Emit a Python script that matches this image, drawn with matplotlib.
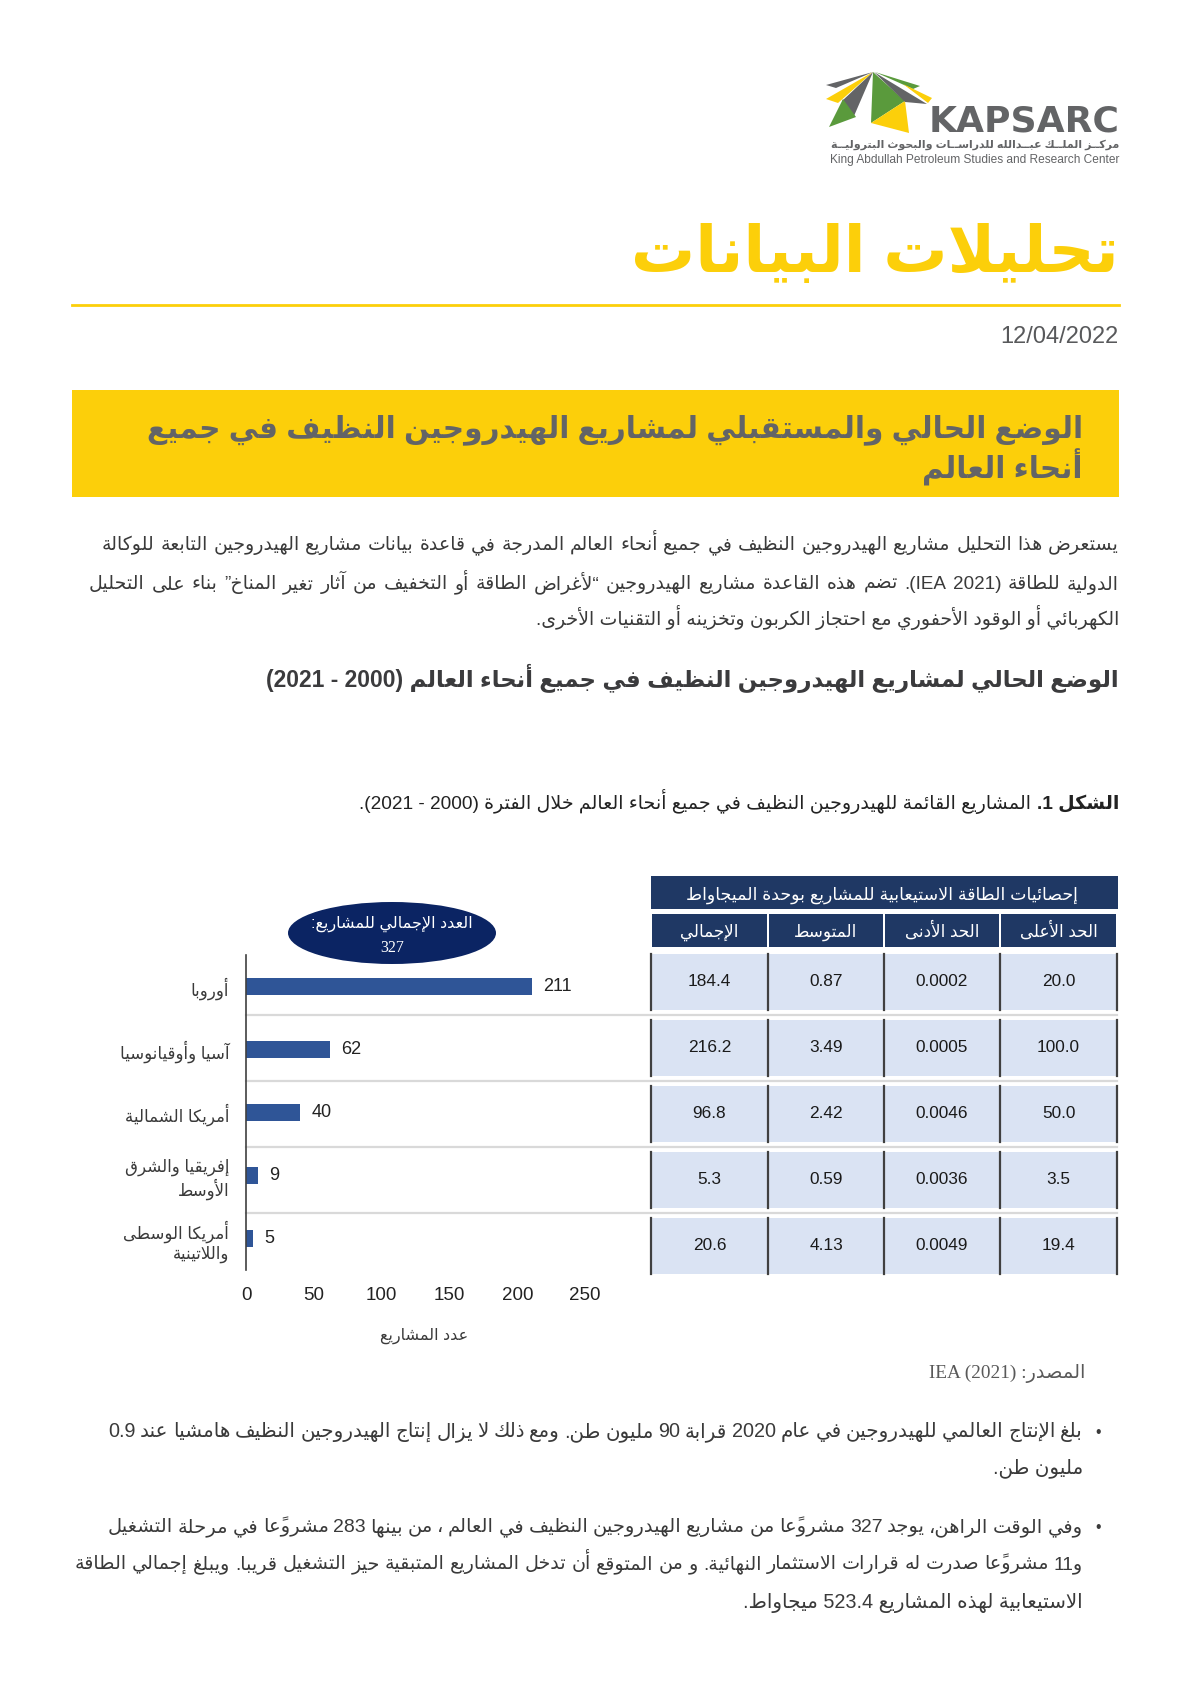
import re
import matplotlib
matplotlib.use("Agg")
import matplotlib.pyplot as plt
from matplotlib.patches import Ellipse, Rectangle, Polygon

plt.rcParams['font.family'] = ['Liberation Sans', 'DejaVu Sans']

# ---------------- data
regions = ["أوروبا", "آسيا وأوقيانوسيا", "أمريكا الشمالية",
           "إفريقيا والشرق\nالأوسط", "أمريكا الوسطى\nواللاتينية"]
projects = [211, 62, 40, 9, 5]
projects_total = 327
x_ticks = [0, 50, 100, 150, 200, 250]

cap_total = [184.4, 216.2, 96.8, 5.3, 20.6]
cap_mean = [0.87, 3.49, 2.42, 0.59, 4.13]
cap_min = [0.0002, 0.0005, 0.0046, 0.0036, 0.0049]
cap_max = [20.0, 100.0, 50.0, 3.5, 19.4]
col_heads = ["الإجمالي", "المتوسط", "الحد الأدنى", "الحد الأعلى"]
col_formats = ["{:.1f}", "{:.2f}", "{:.4f}", "{:.1f}"]

# ---------------- arabic shaping (no raqm in matplotlib)
_letters = "ءآأؤإئابةتثجحخدذرزسشصضطظعغفقكلمنهوىي"
_right = set("آأؤإادذرزوةى")
FORMS = {}
_c = 0xFE80
for ch in _letters:
    n = 1 if ch == "ء" else (2 if ch in _right else 4)
    FORMS[ch] = [chr(_c + k) for k in range(n)]
    _c += n
LAM_ALEF = {"آ": 0xFEF5, "أ": 0xFEF7, "إ": 0xFEF9, "ا": 0xFEFB}
MARKS = set(chr(c) for c in range(0x064B, 0x0660)) | {"\u0670"}
TATWEEL = "\u0640"


def _dual(ch):
    return ch == TATWEEL or len(FORMS.get(ch, "")) == 4


def _joins(ch):
    return ch == TATWEEL or len(FORMS.get(ch, "")) >= 2


def shape(s):
    chars = list(s)
    n = len(chars)
    out = []
    i = 0
    while i < n:
        ch = chars[i]
        if ch not in FORMS:
            out.append(ch)
            i += 1
            continue
        p = i - 1
        while p >= 0 and chars[p] in MARKS:
            p -= 1
        prev = chars[p] if p >= 0 else None
        j = i + 1
        while j < n and chars[j] in MARKS:
            j += 1
        nxt = chars[j] if j < n else None
        cp = prev is not None and _dual(prev) and _joins(ch)
        if ch == "ل" and nxt in LAM_ALEF:
            out.append(chr(LAM_ALEF[nxt] + (1 if cp else 0)))
            out.extend(chars[i + 1:j])
            i = j + 1
            continue
        cn = _dual(ch) and nxt is not None and _joins(nxt)
        f = FORMS[ch]
        if cp and cn:
            out.append(f[3])
        elif cp:
            out.append(f[1])
        elif cn:
            out.append(f[2])
        else:
            out.append(f[0])
        i += 1
    return "".join(out)


LTR = re.compile(r"[A-Za-z](?:[A-Za-z0-9 .,/:\-]|\([A-Za-z0-9 .,/:\-]*\))*|\d+(?:[.,/:]\d+)*")
MIRROR = {"(": ")", ")": "("}


def _rev(seg):
    cl = []
    for ch in seg:
        if ch in MARKS and cl:
            cl[-1] += ch
        else:
            cl.append(MIRROR.get(ch, ch))
    return "".join(reversed(cl))


def ar(s):
    if "\n" in s:
        return "\n".join(ar(x) for x in s.split("\n"))
    s = shape(s)
    parts, pos = [], 0
    for m in LTR.finditer(s):
        txt = m.group().rstrip(" .,/:-")
        parts.append(_rev(s[pos:m.start()]))
        parts.append(txt)
        pos = m.start() + len(txt)
    parts.append(_rev(s[pos:]))
    return "".join(reversed(parts))


# ---------------- colours
YEL = "#FCCF0A"
GRAY = "#636466"
GREEN = "#5A9A3C"
TXT = "#3A3A3A"
NAVY = "#1F3864"
BAR = "#2F5597"
CELL = "#DAE3F3"

fig = plt.figure(figsize=(11.91, 16.84), dpi=100)
pg = fig.add_axes([0, 0, 1, 1])
pg.set_xlim(0, 1191)
pg.set_ylim(1684, 0)
pg.axis("off")
rend = fig.canvas.get_renderer()


def tw(s, size, weight="normal", family=None):
    t = pg.text(0, 0, s, fontsize=size, fontweight=weight)
    if family:
        t.set_family(family)
    w = t.get_window_extent(rend).width
    t.remove()
    return w


def fit(s, target, weight="normal", family=None):
    return 20 * target / tw(ar(s), 20, weight, family)


def line(xr, y, s, size, color=TXT, weight="normal", xl=None, family=None):
    vis = ar(s)
    kw = dict(fontsize=size, color=color, fontweight=weight, va="baseline")
    if family:
        kw["family"] = family
    if xl is None:
        pg.text(xr, y, vis, ha="right", **kw)
        return
    words = [w for w in vis.split(" ") if w]
    while True:
        ws = [tw(w, size, weight) for w in words]
        gap = (xr - xl - sum(ws)) / (len(words) - 1)
        if gap > 0.22 * size * 100 / 72:
            break
        size *= 0.98
        kw["fontsize"] = size
    x = xl
    for w, wd in zip(words, ws):
        pg.text(x, y, w, ha="left", **kw)
        x += wd + gap


# ---------------- logo
logo = [
    ([(873, 72), (826, 85), (836, 88)], GRAY),
    ([(873, 72), (826, 99), (838, 103)], YEL),
    ([(873, 72), (842, 101), (854, 116)], GRAY),
    ([(843, 99), (829, 127), (856, 117)], GREEN),
    ([(873, 72), (871, 123), (905, 101)], GREEN),
    ([(871, 123), (905, 101), (909, 133)], YEL),
    ([(874, 72), (905, 102), (927, 104)], GRAY),
    ([(875, 72), (920, 86), (913, 89)], GREEN),
    ([(903, 84), (928, 103), (932, 98)], YEL),
]
for pts, col in logo:
    pg.add_patch(Polygon(pts, closed=True, color=col, lw=0))
pg.text(1119, 132, "KAPSARC", ha="right", va="baseline", fontsize=26,
        fontweight="bold", color=GRAY, family="DejaVu Sans")
ar_logo = "مركــز الملــك عبــدالله للدراســات والبحوث البتروليــة"
line(1119, 148, ar_logo, fit(ar_logo, 290, "bold"), GRAY, "bold")
eng = "King Abdullah Petroleum Studies and Research Center"
pg.text(1119, 163, eng, ha="right", va="baseline", color=GRAY,
        fontsize=7.2 * 290 / tw(eng, 7.2))

# ---------------- title, date, banner
title = "تحليلات البيانات"
line(1119, 272, title, fit(title, 488, "bold"), YEL, "bold")
pg.plot([72, 1119], [305, 305], color=YEL, lw=2)
pg.text(1119, 343, "12/04/2022", ha="right", va="baseline", fontsize=17, color="#58595B")

pg.add_patch(Rectangle((72, 390), 1047, 107, color=YEL, lw=0))
ban1 = "الوضع الحالي والمستقبلي لمشاريع الهيدروجين النظيف في جميع"
ban2 = "أنحاء العالم"
s_ban = fit(ban1, 935, "bold")
line(1083, 437, ban1, s_ban, GRAY, "bold")
line(1083, 478, ban2, s_ban, GRAY, "bold")

# ---------------- intro paragraph
par = [
    "يستعرض هذا التحليل مشاريع الهيدروجين النظيف في جميع أنحاء العالم المدرجة في قاعدة بيانات مشاريع الهيدروجين التابعة للوكالة",
    "الدولية للطاقة (IEA 2021). تضم هذه القاعدة مشاريع الهيدروجين “لأغراض الطاقة أو التخفيف من آثار تغير المناخ” بناء على التحليل",
    "الكهربائي أو الوقود الأحفوري مع احتجاز الكربون وتخزينه أو التقنيات الأخرى.",
]
s_par = fit(par[2], 582)
line(1119, 550, par[0], s_par, xl=102)
line(1119, 589, par[1], s_par, xl=89)
line(1119, 625, par[2], s_par)

head = "الوضع الحالي لمشاريع الهيدروجين النظيف في جميع أنحاء العالم (2000 - 2021)"
line(1119, 687, head, fit(head, 856, "bold"), "#3B3B3D", "bold")

cap_b = "الشكل 1."
cap_r = "المشاريع القائمة للهيدروجين النظيف في جميع أنحاء العالم خلال الفترة (2000 - 2021)."
wb, wr = tw(ar(cap_b), 20, "bold"), tw(ar(cap_r), 20)
s_cap = 20 * 759 / (wb + wr + 8)
line(1119, 809, cap_b, s_cap, "#222222", "bold")
line(1119 - wb * s_cap / 20 - 6, 809, cap_r, s_cap, "#222222")

# ---------------- bar chart
ax = fig.add_axes([246 / 1191, 1 - 1270 / 1684, (653 - 246) / 1191, (1270 - 955) / 1684])
ax.patch.set_alpha(0)
ax.set_zorder(3)
ypos = list(range(len(regions)))
ax.barh(ypos, projects, height=0.285, color=BAR)
ax.set_xlim(0, 300)
ax.set_ylim(len(regions) - 0.5, -0.5)
ax.set_xticks(x_ticks)
s_cat = fit("أمريكا الشمالية", 105)
ax.set_yticks(ypos)
ax.set_yticklabels([ar(r) for r in regions], fontsize=s_cat, color=TXT)
for t in ax.get_yticklabels():
    t.set_multialignment("right")
for s in ["top", "right", "bottom"]:
    ax.spines[s].set_visible(False)
ax.spines["left"].set_color("#404040")
ax.spines["left"].set_linewidth(1.2)
ax.tick_params(length=0)
ax.tick_params(axis="x", pad=12, labelsize=13.5, labelcolor="#222222")
ax.tick_params(axis="y", pad=12)
for i, v in enumerate(projects):
    ax.annotate(str(v), (v, i), xytext=(8, 0), textcoords="offset points",
                va="center", fontsize=13, color="#222222")

xl = "عدد المشاريع"
pg.text(424, 1340, ar(xl), ha="center", va="baseline", fontsize=fit(xl, 88), color=TXT)

pg.add_patch(Ellipse((392, 933), 208, 62, color="#0B2463", lw=0))
el = "العدد الإجمالي للمشاريع:"
s_el = fit(el, 161)
pg.text(392, 928, ar(el), ha="center", va="baseline", fontsize=s_el, color="white")
pg.text(392, 952, str(projects_total), ha="center", va="baseline", fontsize=s_el,
        color="white", family="Liberation Serif")

# ---------------- table
cols = [651, 768, 884, 1000, 1117]
row_top = [954 + 66 * i for i in range(len(regions))]
for i in range(1, len(regions)):
    pg.plot([246, 1117], [row_top[i] - 5, row_top[i] - 5], color="#D9D9D9", lw=1.6, zorder=1)

pg.add_patch(Rectangle((651, 876), 467, 33, color=NAVY, lw=0, zorder=2))
tt = "إحصائيات الطاقة الاستيعابية للمشاريع بوحدة الميجاواط"
pg.text(882, 900, ar(tt), ha="center", va="baseline", fontsize=fit(tt, 390), color="white", zorder=3)
s_hd = fit("الحد الأعلى", 78)
table_vals = [cap_total, cap_mean, cap_min, cap_max]
for c in range(4):
    x0, x1 = cols[c], cols[c + 1]
    pg.add_patch(Rectangle((x0 + 1, 914), x1 - x0 - 2, 33, color=NAVY, lw=0, zorder=2))
    pg.text((x0 + x1) / 2, 937, ar(col_heads[c]), ha="center", va="baseline",
            fontsize=s_hd, color="white", zorder=3)
    for r in range(len(regions)):
        y0 = row_top[r]
        pg.add_patch(Rectangle((x0, y0), x1 - x0, 56, color=CELL, lw=0, zorder=2))
        pg.plot([x0, x0], [y0, y0 + 56], color="#404040", lw=1.6, zorder=3)
        pg.text((x0 + x1) / 2, y0 + 28, col_formats[c].format(table_vals[c][r]),
                ha="center", va="center", fontsize=12.4, color="#1A1A1A", zorder=3)
for r in range(len(regions)):
    pg.plot([cols[-1], cols[-1]], [row_top[r], row_top[r] + 56], color="#404040", lw=1.6, zorder=3)

# ---------------- source and bullets
src = "المصدر: IEA (2021)"
serif = ["Liberation Serif", "DejaVu Sans"]
line(1085, 1378, src, fit(src, 156, family=serif), "#595959", family=serif)

b1 = [
    "بلغ الإنتاج العالمي للهيدروجين في عام 2020 قرابة 90 مليون طن. ومع ذلك لا يزال إنتاج الهيدروجين النظيف هامشيا عند 0.9",
    "مليون طن.",
]
b2 = [
    "وفي الوقت الراهن، يوجد 327 مشروعًا من مشاريع الهيدروجين النظيف في العالم ، من بينها 283 مشروعًا في مرحلة التشغيل",
    "و11 مشروعًا صدرت له قرارات الاستثمار النهائية. و من المتوقع أن تدخل المشاريع المتبقية حيز التشغيل قريبا. ويبلغ إجمالي الطاقة",
    "الاستيعابية لهذه المشاريع 523.4 ميجاواط.",
]
s_b = fit(b2[2], 339)
pg.text(1098, 1437, "•", ha="center", va="baseline", fontsize=s_b * 0.8, color=TXT)
line(1083, 1437, b1[0], s_b, xl=108)
line(1083, 1473, b1[1], s_b)
pg.text(1098, 1532, "•", ha="center", va="baseline", fontsize=s_b * 0.8, color=TXT)
line(1083, 1532, b2[0], s_b, xl=108)
line(1083, 1569, b2[1], s_b, xl=75)
line(1083, 1608, b2[2], s_b)

fig.savefig("out.png", dpi=100)
